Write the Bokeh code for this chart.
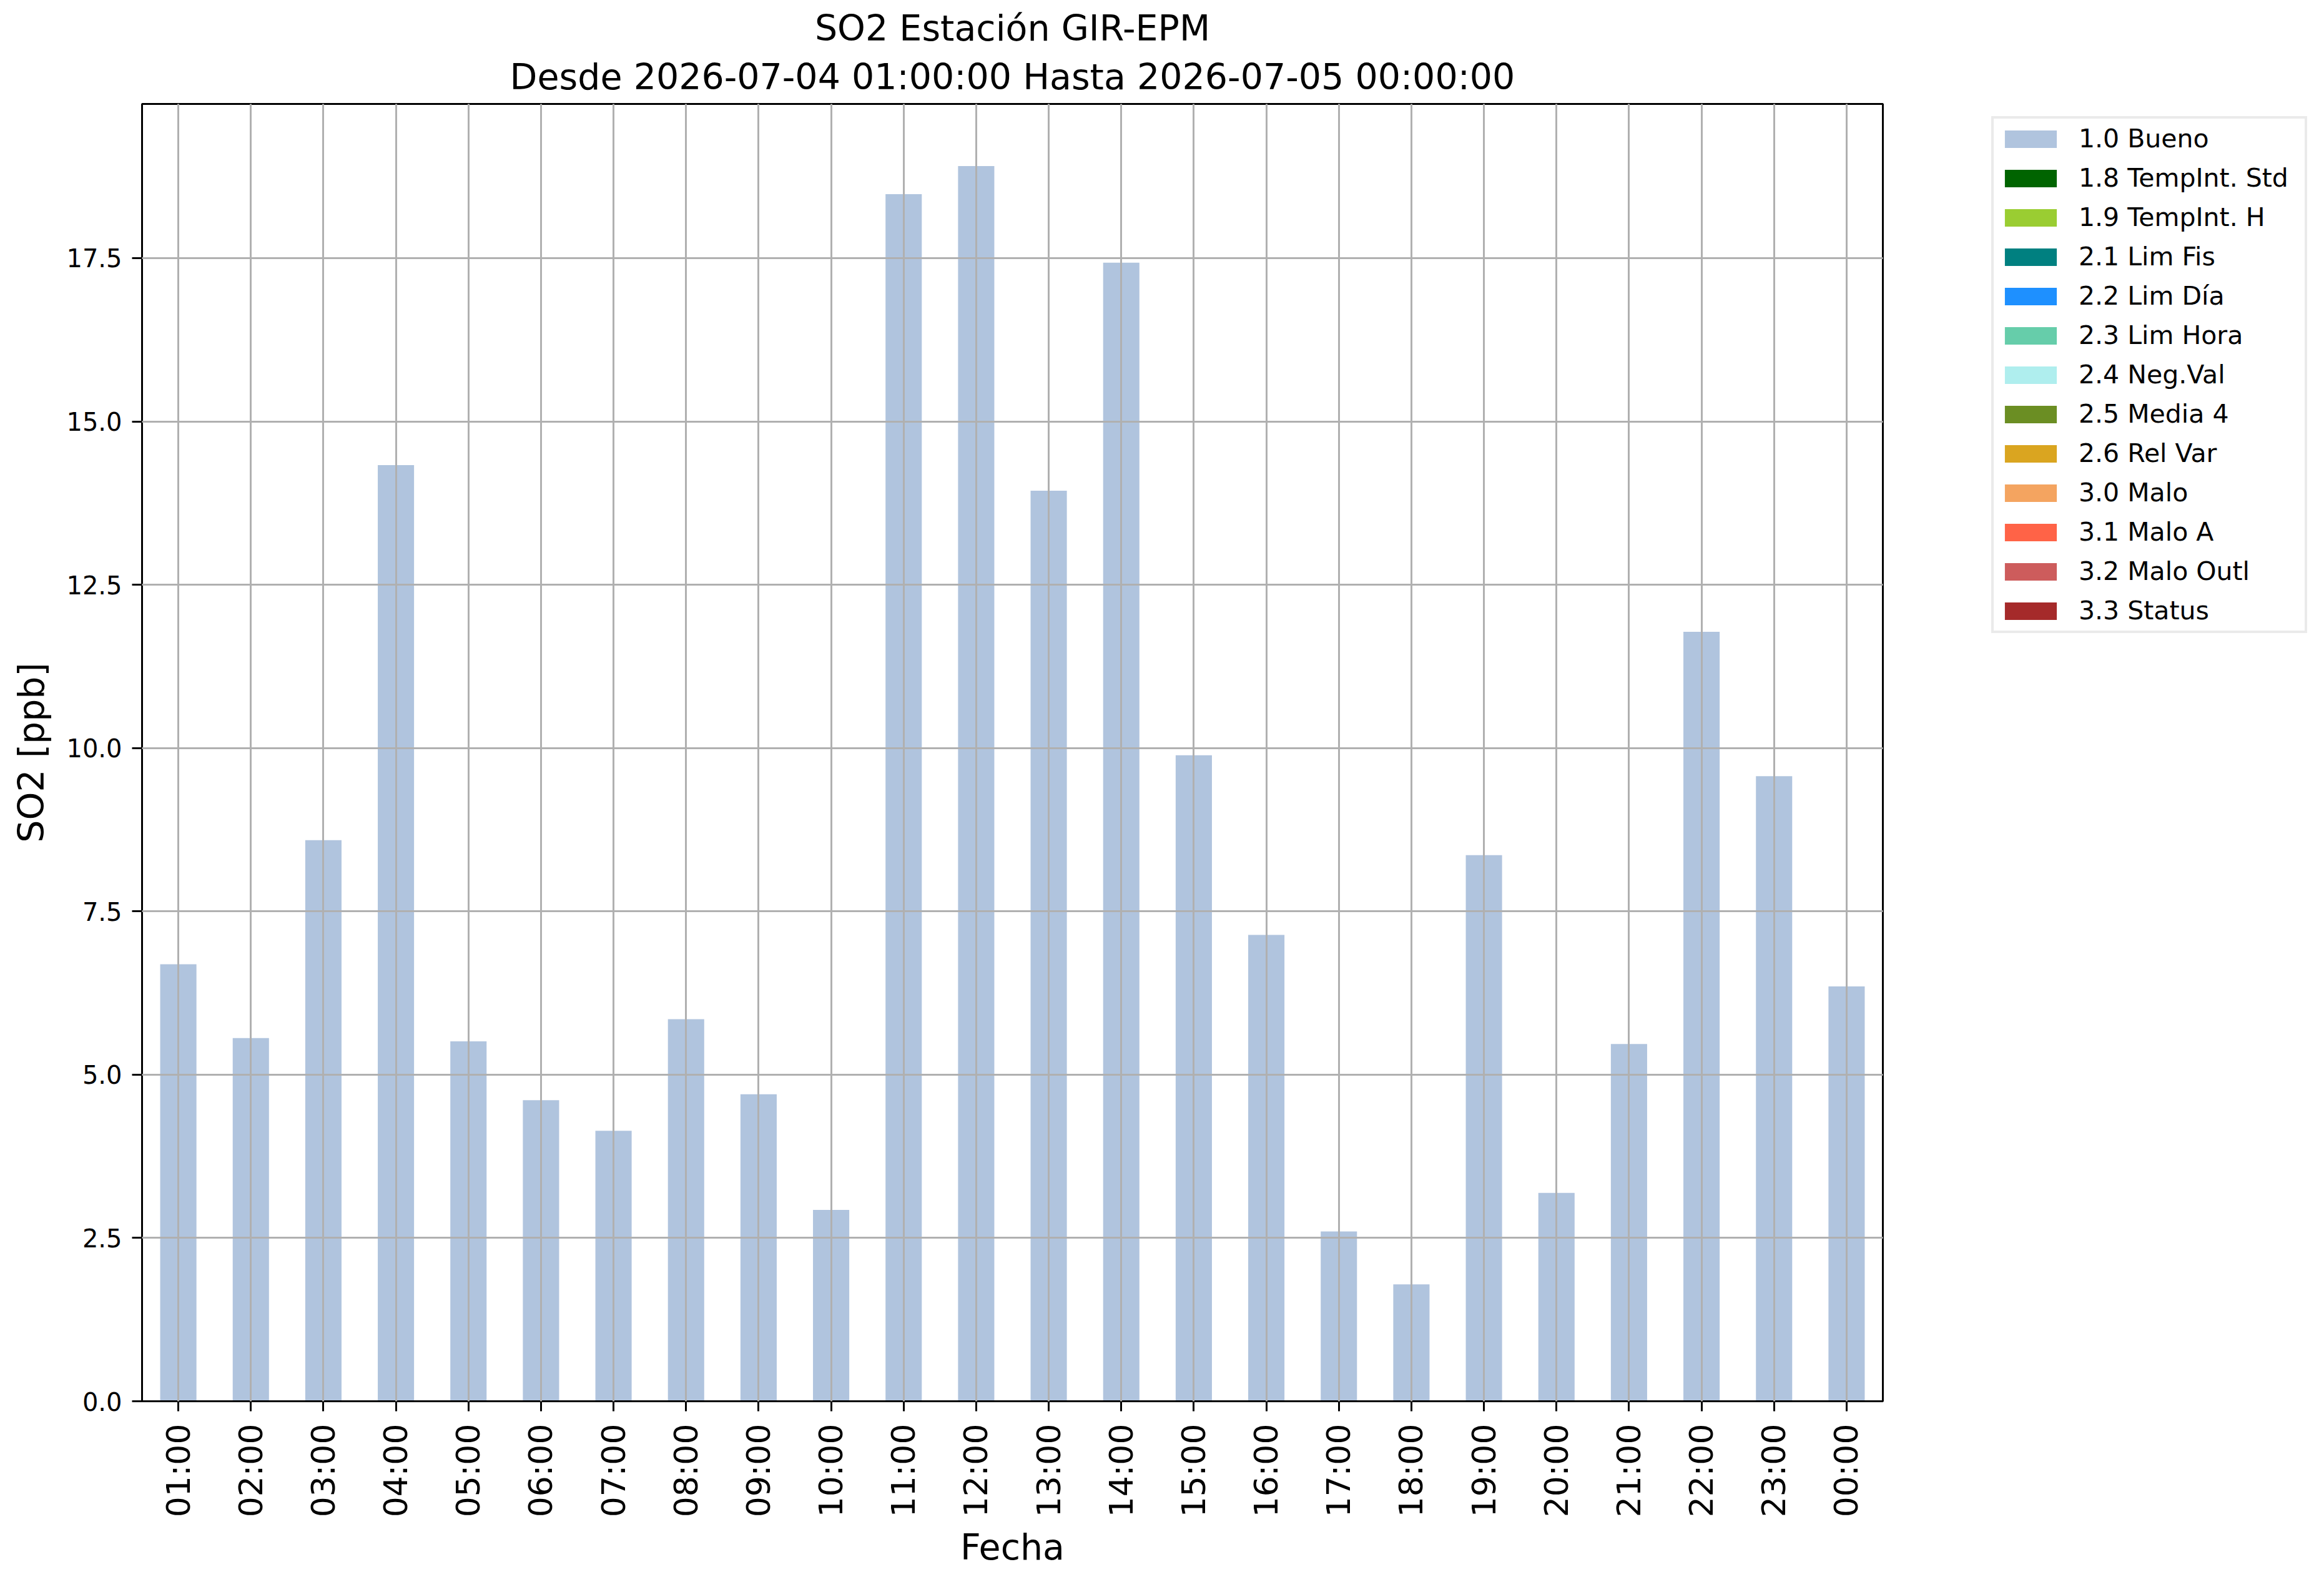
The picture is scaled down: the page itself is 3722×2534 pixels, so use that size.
from bokeh.plotting import figure
from bokeh.models import ColumnDataSource, FactorRange, Range1d, FixedTicker, NumeralTickFormatter, Legend, Title
from bokeh.embed import file_html
from bokeh.resources import INLINE
import math

horas = ["01:00", "02:00", "03:00", "04:00", "05:00", "06:00", "07:00", "08:00",
         "09:00", "10:00", "11:00", "12:00", "13:00", "14:00", "15:00", "16:00",
         "17:00", "18:00", "19:00", "20:00", "21:00", "22:00", "23:00", "00:00"]

bueno = [6.69, 5.56, 8.59, 14.33, 5.51, 4.61, 4.14, 5.85, 4.70, 2.93, 18.48, 18.91,
         13.94, 17.43, 9.89, 7.14, 2.60, 1.79, 8.36, 3.19, 5.47, 11.78, 9.57, 6.35]

categorias = ["1.0 Bueno", "1.8 TempInt. Std", "1.9 TempInt. H", "2.1 Lim Fis", "2.2 Lim Día",
              "2.3 Lim Hora", "2.4 Neg.Val", "2.5 Media 4", "2.6 Rel Var", "3.0 Malo",
              "3.1 Malo A", "3.2 Malo Outl", "3.3 Status"]

colores = ["#B0C4DE", "#006400", "#9ACD32", "#008080", "#1E90FF", "#66CDAA", "#AFEEEE",
           "#6B8E23", "#DAA520", "#F4A460", "#FF6347", "#CD5C5C", "#A52A2A"]

# all flags other than "Bueno" are zero for every hour
otros = [0.0] * len(horas)

y_ticks = [0.0, 2.5, 5.0, 7.5, 10.0, 12.5, 15.0, 17.5]
y_max = 19.86

titulo_1 = "SO2 Estación GIR-EPM"
titulo_2 = "Desde 2026-07-04 01:00:00 Hasta 2026-07-05 00:00:00"

FONT = "DejaVu Sans"

data = {"hora": horas}
keys = []
for i, c in enumerate(categorias):
    k = "c%d" % i
    keys.append(k)
    data[k] = bueno if i == 0 else otros
source = ColumnDataSource(data)

p = figure(x_range=FactorRange(*horas, range_padding=0),
           y_range=Range1d(0, y_max),
           frame_width=2788, frame_height=2078,
           min_border_left=227, min_border_right=699,
           min_border_top=166, min_border_bottom=282,
           output_backend="svg", toolbar_location=None, title=None)

for txt, so in ((titulo_2, 21), (titulo_1, 0)):
    t = Title(text=txt, align="center", text_font=FONT, text_font_size="57px",
              text_font_style="normal", text_color="black", standoff=so,
              text_line_height=0.8)
    p.add_layout(t, "above")

renderers = p.vbar_stack(keys, x="hora", width=0.5, color=colores, line_color=None,
                         source=source)

legend = Legend(items=[(categorias[i], [renderers[i]]) for i in range(len(categorias))],
                location=(174, 1230))
legend.label_text_font = FONT
legend.label_text_font_size = "41px"
legend.label_text_color = "black"
legend.glyph_width = 104
legend.glyph_height = 35
legend.label_height = 50
legend.label_width = 355
legend.label_standoff = 25
legend.spacing = 13
legend.padding = 7
legend.margin = 0
legend.border_line_color = "#d6d6d6"
legend.border_line_width = 4
legend.background_fill_color = "white"
legend.background_fill_alpha = 1.0
p.add_layout(legend, "right")

p.outline_line_color = "black"
p.outline_line_width = 3

for ax in (p.xaxis[0], p.yaxis[0]):
    ax.axis_line_width = 3
    ax.axis_line_color = "black"
    ax.major_tick_line_width = 3
    ax.major_tick_line_color = "black"
    ax.major_tick_out = 16
    ax.major_tick_in = 0
    ax.minor_tick_line_color = None
    ax.major_label_text_font = FONT
    ax.major_label_text_color = "black"
    ax.axis_label_text_font = FONT
    ax.axis_label_text_font_size = "57px"
    ax.axis_label_text_font_style = "normal"
    ax.axis_label_text_color = "black"

p.xaxis.axis_label = "Fecha"
p.xaxis.major_label_orientation = math.pi / 2
p.xaxis.major_label_text_font_size = "52px"
p.xaxis.major_label_standoff = 20
p.xaxis.axis_label_standoff = 12

p.yaxis.axis_label = "SO2 [ppb]"
p.yaxis.ticker = FixedTicker(ticks=y_ticks)
p.yaxis.formatter = NumeralTickFormatter(format="0.0")
p.yaxis.major_label_text_font_size = "40px"
p.yaxis.major_label_standoff = 16
p.yaxis.axis_label_standoff = 20

for g in (p.xgrid[0], p.ygrid[0]):
    g.grid_line_color = "#b0b0b0"
    g.grid_line_width = 3
    g.level = "overlay"
p.ygrid.ticker = FixedTicker(ticks=y_ticks)

p.background_fill_color = "white"
p.border_fill_color = "white"

open("out.html", "w").write(file_html(p, INLINE))
